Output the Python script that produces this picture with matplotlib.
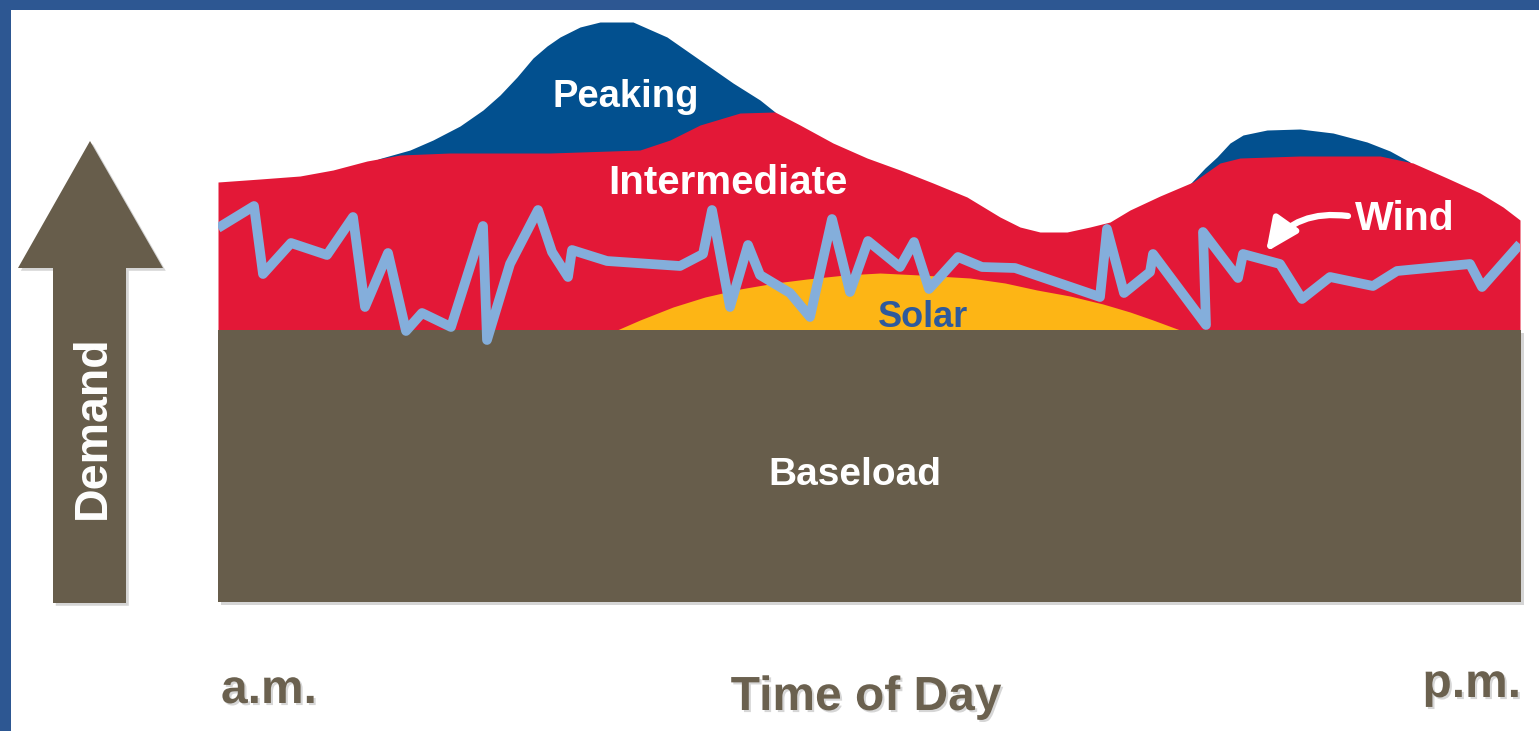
import matplotlib
matplotlib.use("Agg")
import matplotlib.pyplot as plt
import matplotlib.patheffects as pe
from matplotlib.patches import Polygon, Rectangle

# ---------------- data (time index 0..1302, demand units, baseload = 272) ----------------
baseload_level = 272
time_span = 1302

# Intermediate (total demand envelope below peaking)
inter_x = [0, 42, 82, 115, 149, 182, 232, 332, 422, 452, 482, 522, 557, 582, 615, 649, 682,
           715, 749, 782, 802, 822, 849, 872, 892, 912, 942, 975, 1002, 1022, 1082, 1162,
           1195, 1229, 1262, 1285, 1302]
inter_top = [420, 423, 426, 432, 441, 447, 449, 449, 452, 462, 477, 489, 490, 477, 459, 444, 432,
             419, 405, 385, 375, 370, 370, 375, 380, 392, 406, 420, 439, 444, 446, 446,
             439, 424, 409, 395, 382]

# Peaking – morning peak
peak1_x = [160, 192, 215, 242, 265, 282, 299, 315, 329, 342, 362, 382, 415, 449, 482, 515, 542, 557]
peak1_top = [443, 452, 462, 476, 492, 507, 525, 544, 556, 565, 575, 580, 580, 565, 542, 519, 502, 490]

# Peaking – evening peak
peak2_x = [972, 987, 999, 1012, 1025, 1049, 1082, 1115, 1149, 1172, 1192]
peak2_top = [418, 434, 445, 459, 467, 472, 473, 469, 460, 451, 440]

# Solar (on top of baseload)
solar_x = [399, 422, 455, 487, 522, 557, 589, 627, 662, 702, 752, 787, 819, 852, 885, 912, 935, 962]
solar_top = [272, 282, 295, 305, 313, 319, 323, 327, 329, 327, 324, 319, 312, 306, 298, 290, 282, 272]

# Wind output (absolute level)
wind_x = [0, 36, 45, 73, 109, 135, 147, 170, 188, 204, 233, 265, 269, 292, 320, 334, 350, 354,
          389, 462, 485, 494, 512, 530, 542, 572, 592, 614, 632, 650, 682, 696, 711, 740, 764,
          797, 882, 889, 906, 932, 935, 988, 985, 1020, 1025, 1062, 1084, 1112, 1155, 1179,
          1252, 1264, 1302]
wind_val = [374, 396, 328, 359, 347, 385, 295, 349, 271, 289, 275, 376, 262, 338, 392, 350, 325, 352,
            341, 336, 348, 392, 295, 357, 327, 309, 285, 383, 310, 361, 335, 360, 313, 345, 335,
            334, 305, 373, 309, 330, 348, 277, 370, 324, 348, 338, 303, 325, 316, 331,
            338, 315, 358]

labels = {"peak": "Peaking", "inter": "Intermediate", "solar": "Solar", "wind": "Wind",
          "base": "Baseload"}
x_labels = ["a.m.", "Time of Day", "p.m."]
y_label = "Demand"

# ---------------- styling ----------------
BORDER = "#2D5792"
BLUE = "#02508F"
RED = "#E31837"
YELLOW = "#FDB515"
BROWN = "#675D4B"
WIND = "#84AEDB"
SOLAR_TXT = "#2E5A9C"
GREY_TXT = "#6B614F"
FONT = "Liberation Sans"

W, H = 1539, 731
fig = plt.figure(figsize=(W / 100, H / 100), dpi=100)
fig.patch.set_facecolor("white")

# decoration layer in pixel coordinates
deco = fig.add_axes([0, 0, 1, 1])
deco.set_xlim(0, W)
deco.set_ylim(H, 0)
deco.axis("off")
deco.add_patch(Rectangle((0, 0), W, 9.5, color=BORDER, lw=0))
deco.add_patch(Rectangle((0, 0), 10.5, H, color=BORDER, lw=0))
arrow = Polygon([(53, 603), (53, 268), (18, 268), (90, 141), (163, 268), (126, 268), (126, 603)],
                closed=True, facecolor=BROWN, edgecolor="none",
                path_effects=[pe.SimplePatchShadow(offset=(2, -2), shadow_rgbFace="#888888", alpha=0.35),
                              pe.Normal()])
deco.add_patch(arrow)

# main chart
ax = fig.add_axes([218 / W, 129 / H, 1302 / W, 592 / H])
ax.set_xlim(0, time_span)
ax.set_ylim(0, 592)
ax.axis("off")
ax.patch.set_alpha(0)

ax.fill_between(peak1_x, baseload_level, peak1_top, color=BLUE, lw=0, zorder=1)
ax.fill_between(peak2_x, baseload_level, peak2_top, color=BLUE, lw=0, zorder=1)
ax.fill_between(inter_x, baseload_level, inter_top, color=RED, lw=0, zorder=2)
ax.fill_between(solar_x, baseload_level, solar_top, color=YELLOW, lw=0, zorder=3)
bars = ax.bar([0], [baseload_level], width=time_span + 1, align="edge", color=BROWN, lw=0, zorder=4)
for b in bars:
    b.set_clip_on(False)
    b.set_path_effects([pe.SimplePatchShadow(offset=(2, -2), shadow_rgbFace="#888888", alpha=0.35),
                        pe.Normal()])
ax.plot(wind_x, wind_val, color=WIND, lw=7, solid_joinstyle="round", solid_capstyle="butt", zorder=5)

ax.annotate("", xy=(1048, 350), xytext=(1130, 386),
            arrowprops=dict(arrowstyle="-|>,head_length=0.7,head_width=0.32", lw=4.5, color="white",
                            connectionstyle="arc3,rad=0.3", shrinkA=0, shrinkB=0,
                            mutation_scale=28),
            zorder=6)

# labels (pixel placement)
tt = deco.transData
kw = dict(transform=tt, fontfamily=FONT, fontweight="bold", zorder=10)
fig.text(626, 107, labels["peak"], color="white", fontsize=27.5, ha="center", va="baseline", **kw)
fig.text(728, 194, labels["inter"], color="white", fontsize=29, ha="center", va="baseline", **kw)
fig.text(923, 327, labels["solar"], color=SOLAR_TXT, fontsize=26, ha="center", va="baseline", **kw)
fig.text(1405, 230, labels["wind"], color="white", fontsize=29.5, ha="center", va="baseline", **kw)
fig.text(855, 485, labels["base"], color="white", fontsize=28, ha="center", va="baseline", **kw)
fig.text(105, 427, y_label, color="white", fontsize=33.5, ha="center", va="baseline",
         rotation=90, rotation_mode="anchor", **kw)

shadow = [pe.withSimplePatchShadow(offset=(1.5, -1.5), shadow_rgbFace="#999999", alpha=0.4)]
fig.text(221, 703, x_labels[0], color=GREY_TXT, fontsize=34.5, ha="left", va="baseline",
         path_effects=shadow, **kw)
fig.text(866, 710, x_labels[1], color=GREY_TXT, fontsize=34.5, ha="center", va="baseline",
         path_effects=shadow, **kw)
fig.text(1521, 697, x_labels[2], color=GREY_TXT, fontsize=34.5, ha="right", va="baseline",
         path_effects=shadow, **kw)

fig.savefig("out.png", dpi=100, facecolor="white")
